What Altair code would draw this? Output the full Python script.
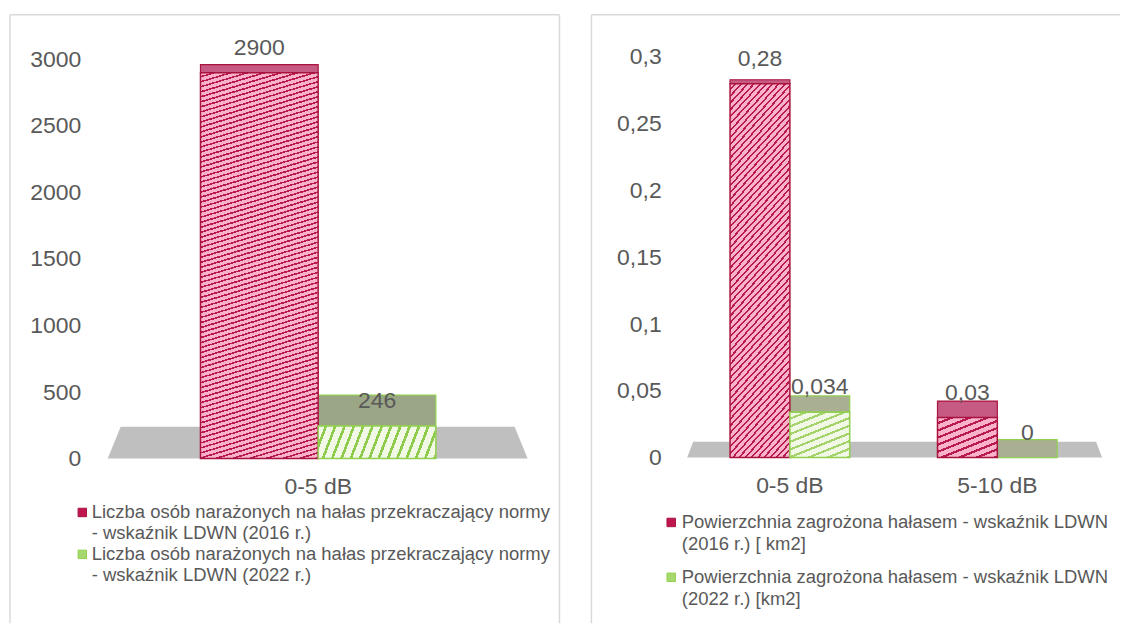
import math
import altair as alt
import pandas as pd

FONT = "Liberation Sans"
TXT = "#595959"

# ---------------- data ----------------
left_categories = ["0-5 dB"]
left_2016 = [2900]
left_2022 = [246]
left_legend = [
    "Liczba osób narażonych na hałas przekraczający normy\n- wskaźnik LDWN (2016 r.)",
    "Liczba osób narażonych na hałas przekraczający normy\n- wskaźnik LDWN (2022 r.)",
]
left_ticks = [0, 500, 1000, 1500, 2000, 2500, 3000]

right_categories = ["0-5 dB", "5-10 dB"]
right_2016 = [0.28, 0.03]
right_2022 = [0.034, 0]
right_legend = [
    "Powierzchnia zagrożona hałasem - wskaźnik LDWN\n(2016 r.) [ km2]",
    "Powierzchnia zagrożona hałasem - wskaźnik LDWN\n(2022 r.) [km2]",
]
right_ticks = [0, 0.05, 0.1, 0.15, 0.2, 0.25, 0.3]

series_keys = ["2016", "2022"]

# ---------------- styles ----------------
PINK_L, PINK_D, PINK_TOP, PINK_STROKE = "#F9B2C9", "#B81A50", "#C65A82", "#A8133F"
GREEN_L, GREEN_D, GREEN_STROKE = "#F1F8E6", "#8FCB4A", "#92D050"

PANEL_H = 610


def hatch(W, H, s, d, light, dark, frac):
    """Diagonal stripe fill built from a linear gradient (bbox units)."""
    p, q = s * W, max(H, 1.0)
    lam = (p + q) / (p * p + q * q)
    n = max(1, round((p + q) / (math.sqrt(1 + s * s) * d)))
    stops = []
    for i in range(n):
        a, b, c = i / n, (i + 1 - frac) / n, (i + 1) / n
        stops += [
            {"offset": a, "color": light},
            {"offset": b, "color": light},
            {"offset": b, "color": dark},
            {"offset": c, "color": dark},
        ]
    return {"gradient": "linear", "x1": 0, "y1": 0, "x2": p * lam, "y2": q * lam, "stops": stops}


def one_row():
    return alt.Chart(pd.DataFrame({"k": [0]}))


def fmt(v):
    return f"{v:g}".replace(".", ",")


def panel(cats, v16, v22, legend, ticks, *, width, ydom, xrange, ylab_x,
          xlab_y, label_expr, depth, floor, legend_pos, styles, right_border, bar_w):
    rows = []
    for c, a, b in zip(cats, v16, v22):
        rows.append({"cat": c, "series": "2016", "value": a, "label": fmt(a)})
        rows.append({"cat": c, "series": "2022", "value": b, "label": fmt(b)})
    df = pd.DataFrame(rows)
    ppu = PANEL_H / (ydom[1] - ydom[0])

    yaxis_kw = dict(values=ticks, grid=False, domain=False, ticks=False, title=None,
                    labelFont=FONT, labelFontSize=23, labelColor=TXT, labelPadding=0,
                    offset=-ylab_x, labelAlign="right", labelBaseline="middle")
    if label_expr:
        yaxis_kw["labelExpr"] = label_expr
    else:
        yaxis_kw["format"] = "d"
    Y = alt.Y("value:Q", scale=alt.Scale(domain=ydom, nice=False, zero=False),
              axis=alt.Axis(**yaxis_kw))
    X = alt.X("cat:N", sort=cats,
              scale=alt.Scale(domain=cats, range=xrange, paddingInner=0.4,
                              paddingOuter=0.2),
              axis=alt.Axis(title=None, domain=False, ticks=False, grid=False, labelAngle=0,
                            labelFont=FONT, labelFontSize=23, labelColor=TXT,
                            labelPadding=0, labelBaseline="middle",
                            offset=-(PANEL_H - xlab_y)))

    base = alt.Chart(df)
    layers = []

    # panel border
    bc = "#D9D9D9"
    layers.append(one_row().mark_rule(color=bc, strokeWidth=1.5).encode(
        x=alt.value(0), y=alt.value(0), y2=alt.value(PANEL_H)))
    layers.append(one_row().mark_rule(color=bc, strokeWidth=1.5).encode(
        x=alt.value(0), x2=alt.value(width), y=alt.value(0)))
    if right_border:
        layers.append(one_row().mark_rule(color=bc, strokeWidth=1.5).encode(
            x=alt.value(width), y=alt.value(0), y2=alt.value(PANEL_H)))

    # grey floor
    cx, cy, hwb, hwt, hh = floor
    path = f"M{-hwb},{hh}L{hwb},{hh}L{hwt},{-hh}L{-hwt},{-hh}Z"
    layers.append(one_row().mark_point(shape=path, size=4, filled=True, fill="#BFBFBF",
                                       opacity=1, strokeWidth=0).encode(
        x=alt.value(cx), y=alt.value(cy)))

    a, b = depth
    offs = {"2016": -bar_w / 2, "2022": bar_w / 2}
    tops = {"2016": PINK_TOP, "2022": styles["top_green"]}
    strokes = {"2016": PINK_STROKE, "2022": GREEN_STROKE}

    # top faces (3D depth)
    for s in series_keys:
        layers.append(base.transform_filter(f"datum.series === '{s}'").transform_calculate(
            top=f"datum.value + ({a} + ({b})*datum.value)/{ppu}").mark_bar(
            width=bar_w, xOffset=offs[s], fill=tops[s], stroke=strokes[s],
            strokeWidth=1.2).encode(x=X, y=Y, y2="top:Q"))

    # front faces with hatch pattern
    for r in rows:
        if r["value"] <= 0:
            continue
        st = styles[(r["cat"], r["series"])]
        pink = r["series"] == "2016"
        fill = hatch(bar_w, r["value"] * ppu, st["s"], st["d"],
                     PINK_L if pink else GREEN_L, PINK_D if pink else st.get("dark", GREEN_D),
                     st["frac"])
        layers.append(base.transform_filter(
            f"datum.cat === '{r['cat']}' && datum.series === '{r['series']}'").mark_bar(
            width=bar_w, xOffset=offs[r["series"]], fill=fill,
            stroke=strokes[r["series"]], strokeWidth=1.5).encode(
            x=X, y=Y, y2=alt.datum(0)))

    # value labels
    for s in series_keys:
        layers.append(base.transform_filter(f"datum.series === '{s}'").mark_text(
            font=FONT, fontSize=23, color=TXT, baseline="middle", dy=-25,
            xOffset=offs[s]).encode(x=X, y=Y, text="label:N"))

    # legend
    (mx, my1, my2), tx, lh = legend_pos
    for my, txt, fc, sc in [(my1, legend[0], "#C0164E", PINK_STROKE),
                            (my2, legend[1], "#A6D86E", GREEN_STROKE)]:
        layers.append(one_row().mark_square(size=72, filled=True, fill=fc, stroke=sc,
                                            strokeWidth=1, opacity=1).encode(
            x=alt.value(mx), y=alt.value(my)))
        layers.append(one_row().mark_text(font=FONT, fontSize=18.5, color=TXT, align="left",
                                          baseline="middle", lineBreak="\n",
                                          lineHeight=lh).encode(
            x=alt.value(tx), y=alt.value(my), text=alt.value(txt)))

    return alt.layer(*layers).properties(width=width, height=PANEL_H)


left = panel(
    left_categories, left_2016, left_2022, left_legend, left_ticks,
    width=551, ydom=[-1236.4, 3334.6], xrange=[109, 509], ylab_x=71,
    xlab_y=473, label_expr=None, depth=(33, -25 / 2900),
    floor=(308.5, 429, 210.5, 197.5, 16),
    legend_pos=((72.5, 499, 541), 82, 21),
    styles={("0-5 dB", "2016"): dict(s=0.3, d=4.8, frac=0.33),
            ("0-5 dB", "2022"): dict(s=2.6, d=8.5, frac=0.3),
            "top_green": "#9AA686"},
    right_border=True, bar_w=118,
)

right = panel(
    right_categories, right_2016, right_2022, right_legend, right_ticks,
    width=530, ydom=[-0.124, 0.3316], xrange=[95, 511], ylab_x=70,
    xlab_y=472, label_expr="replace(toString(datum.value), '.', ',')", depth=(18, -50),
    floor=(304, 436, 208, 202, 8),
    legend_pos=((80, 509, 564), 90.6, 22),
    styles={("0-5 dB", "2016"): dict(s=1.1, d=4.6, frac=0.33),
            ("5-10 dB", "2016"): dict(s=0.4, d=7, frac=0.33),
            ("0-5 dB", "2022"): dict(s=0.4, d=7, frac=0.3, dark="#A3D36A"),
            "top_green": "#A8AF93"},
    right_border=False, bar_w=60,
)

chart = alt.hconcat(left, right, spacing=30).properties(
    padding={"left": 1, "top": 5, "right": 0, "bottom": 0},
    background="white",
).configure_view(stroke=None)

chart.save("out.html", embed_options={"renderer": "svg", "actions": False})
